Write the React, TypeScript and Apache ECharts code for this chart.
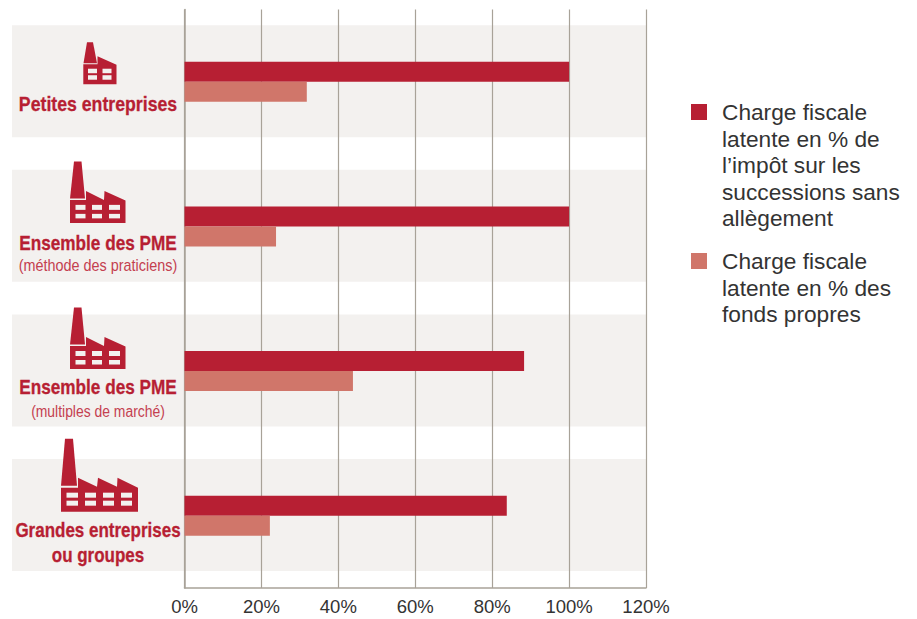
import React, { useEffect, useRef } from "react";
import * as echarts from "echarts";

const categories = ["Petites entreprises", "Ensemble des PME", "Ensemble des PME", "Grandes entreprises"];
const subLabels = ["", "(méthode des praticiens)", "(multiples de marché)", "ou groupes"];
const seriesNames = [
  "Charge fiscale\nlatente en % de\nl’impôt sur les\nsuccessions sans\nallègement",
  "Charge fiscale\nlatente en % des\nfonds propres",
];
const impotValues = [100, 100, 88.3, 83.8];
const fondsValues = [31.8, 23.8, 43.8, 22.2];
const xMax = 120;

const RED = "#b71f33";
const PINK = "#d0766a";
const BAND = "#f3f1ef";
const LINE = "#a8a298";

const FAMILY = '"Liberation Sans", Arial, sans-serif';

type Icon = { ref: number; chimney: number[][]; body: number[][]; rows: number[][]; cols: number[][] };
const midIcon: Icon = {
  ref: 226.5,
  chimney: [[74, 161.5], [81.5, 161.5], [85, 198.5], [70, 198.5]],
  body: [[70, 200], [86, 200], [86, 191], [104, 200], [104.5, 191], [125.5, 200.5], [125.5, 223], [70, 223]],
  rows: [[205, 210], [214, 218.5]],
  cols: [[75.5, 85.5], [92, 102], [109, 120]],
};
const icons: Icon[] = [
  {
    ref: 81.5,
    chimney: [[87, 42], [93, 42], [97, 63], [83.5, 63]],
    body: [[83.3, 64], [97.5, 64], [97.5, 56], [116.5, 64.5], [116.5, 84], [83.3, 84]],
    rows: [[68.5, 73], [75, 79.5]],
    cols: [[88, 97], [102.5, 111.5]],
  },
  midIcon,
  { ...midIcon, ref: 225 },
  {
    ref: 516,
    chimney: [[65, 439], [73, 439], [77, 486], [61, 486]],
    body: [[61, 488], [78, 488], [78, 478], [97, 487], [98, 478], [117, 487], [117.5, 478], [138, 488], [138, 512], [61, 512]],
    rows: [[493, 498], [501, 506]],
    cols: [[66.5, 78], [85, 96], [103, 114], [121, 132]],
  },
];
const nameOffsets = [22.5, 16.5, 16.5, 14];
const subOffsets = [0, 39, 40, 39];
const subIsBold = [false, false, false, true];
const nameScales = [0.885, 0.86, 0.86, 0.85];
const subScales = [1, 0.9, 0.87, 0.85];

function narrowText(text: string, x: number, y: number, bold: boolean, scaleX: number) {
  return {
    type: "text",
    x,
    y,
    scaleX,
    style: {
      text,
      x: 0,
      y: 0,
      align: "center",
      verticalAlign: "middle",
      fontFamily: FAMILY,
      fontWeight: bold ? "bold" : "normal",
      fontSize: bold ? 20 : 16,
      fill: bold ? RED : "#c4404f",
      stroke: bold ? RED : undefined,
      lineWidth: bold ? 0.3 : 0,
    },
  };
}

function renderBand(params: any, api: any) {
  const i = params.dataIndex;
  const [x1, cy] = api.coord([xMax, i]);
  const h = 112;
  const icon = icons[i];
  const windows: any[] = [];
  icon.rows.forEach((r) =>
    icon.cols.forEach((c) =>
      windows.push({
        type: "rect",
        shape: { x: c[0], y: r[0], width: c[1] - c[0], height: r[1] - r[0] },
        style: { fill: BAND },
      })
    )
  );
  const texts: any[] = [narrowText(categories[i], 98, cy + nameOffsets[i], true, nameScales[i])];
  if (subLabels[i]) texts.push(narrowText(subLabels[i], 98, cy + subOffsets[i], subIsBold[i], subScales[i]));
  return {
    type: "group",
    children: [
      { type: "rect", shape: { x: 12, y: cy - h / 2 - 0.6, width: x1 - 12, height: h }, style: { fill: BAND } },
      {
        type: "group",
        y: cy - icon.ref,
        children: [
          { type: "polygon", shape: { points: icon.chimney }, style: { fill: RED } },
          { type: "polygon", shape: { points: icon.body }, style: { fill: RED } },
          ...windows,
        ],
      },
      ...texts,
    ],
  };
}

const LEGEND_ICON = "path://M0 0H16V16H0Z M26 0L26 16Z";

export default function App() {
  const ref = useRef<HTMLDivElement>(null);
  useEffect(() => {
    const chart = echarts.init(ref.current!, undefined, { renderer: "svg" });
    chart.setOption({
      animation: false,
      grid: { left: 184.5, right: 271, top: 9.4, bottom: 31, containLabel: false, outerBoundsMode: "none" },
      legend: {
        orient: "vertical",
        left: 691,
        top: -7.7,
        padding: 0,
        itemWidth: 26,
        itemHeight: 16,
        itemGap: -37.2,
        selectedMode: false,
        icon: LEGEND_ICON,
        data: seriesNames,
        textStyle: { fontFamily: FAMILY, fontSize: 22.7, lineHeight: 26.6, color: "#333333" },
        formatter: (n: string) => {
          const extra = n.split("\n").length - 1;
          return "\n".repeat(extra) + n;
        },
      },
      xAxis: {
        type: "value",
        min: 0,
        max: xMax,
        interval: 20,
        axisLine: { show: true, lineStyle: { color: LINE, width: 1.5 } },
        axisTick: { show: false },
        splitLine: { show: true, lineStyle: { color: LINE, width: 1.2 } },
        axisLabel: {
          formatter: "{value}%",
          fontFamily: FAMILY,
          fontSize: 18.5,
          color: "#333333",
          margin: 9,
        },
      },
      yAxis: {
        type: "category",
        inverse: true,
        data: categories,
        axisLine: { show: true, lineStyle: { color: LINE, width: 1.5 } },
        axisTick: { show: false },
        axisLabel: { show: false },
      },
      series: [
        {
          type: "custom",
          silent: true,
          z: -1,
          clip: false,
          renderItem: renderBand,
          encode: { x: 0, y: 1 },
          data: categories.map((_, i) => [xMax, i]),
        },
        { type: "bar", name: seriesNames[0], data: impotValues, barWidth: 20, barGap: 0, itemStyle: { color: RED } },
        { type: "bar", name: seriesNames[1], data: fondsValues, barWidth: 20, barGap: 0, itemStyle: { color: PINK } },
      ],
    });
    return () => chart.dispose();
  }, []);
  return <div ref={ref} style={{ position: "absolute", left: 0, top: 0, width: 917, height: 619 }} />;
}
